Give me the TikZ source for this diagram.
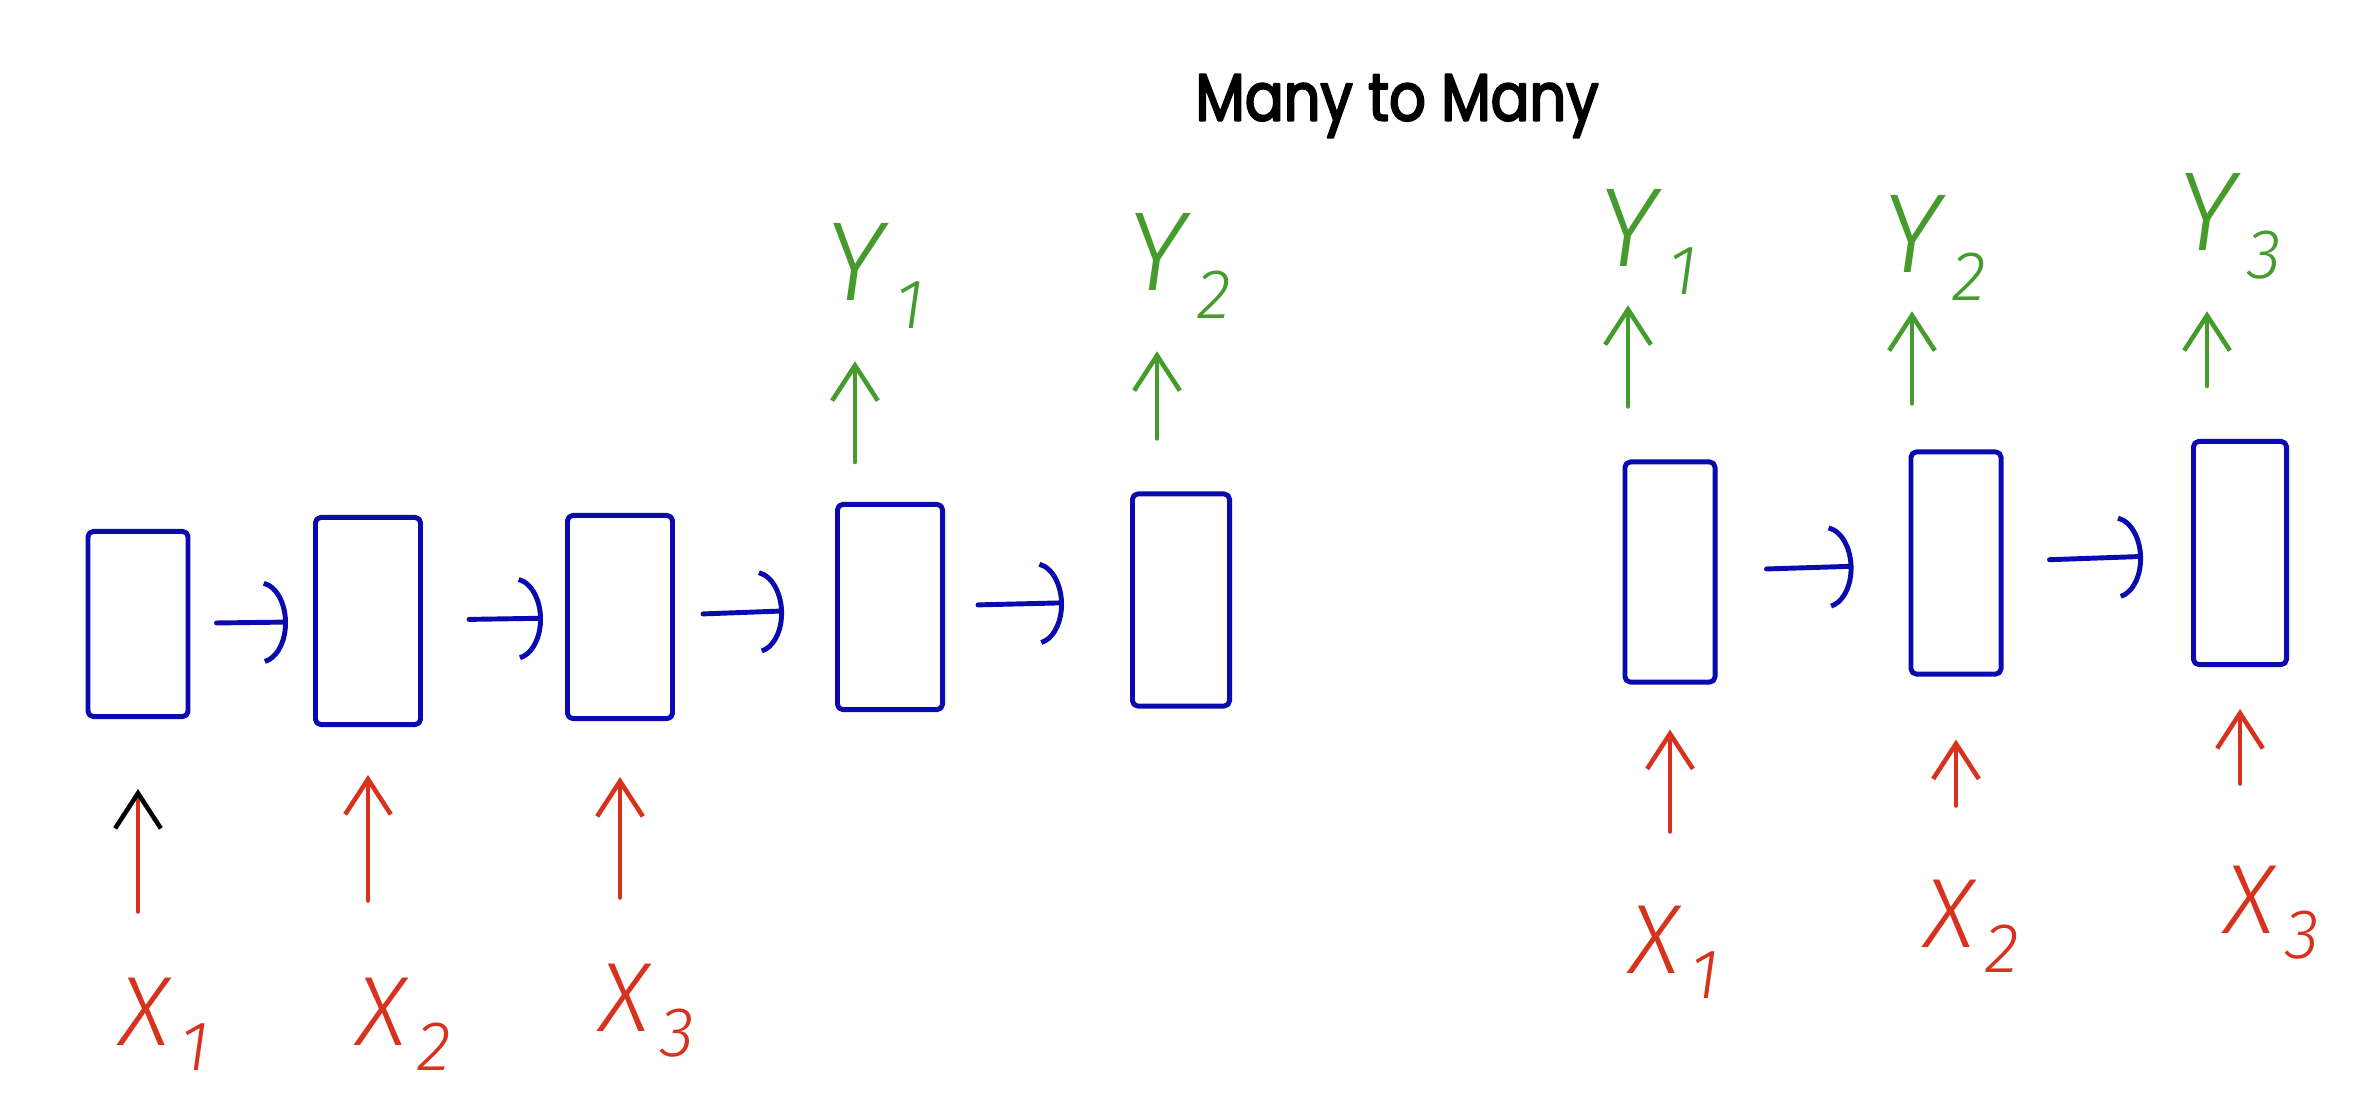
\documentclass[tikz,border=0pt]{standalone}
\usepackage{fontspec}
\setmainfont{Fira Sans Light}
\newfontfamily\titlefont{Poppins}[FakeStretch=0.86, FakeBold=3]
\usetikzlibrary{arrows.meta}
\definecolor{rnnblue}{RGB}{10,10,175}
\definecolor{rnnred}{RGB}{215,50,30}
\definecolor{rnngreen}{RGB}{70,155,45}
\newcommand\subtxt[2]{#1\rlap{\hspace{0.1em}\raisebox{-0.25em}{\fontsize{20}{20}\selectfont #2}}}
\begin{document}
\begin{tikzpicture}[x=0.01cm,y=-0.01cm,
  line cap=round, line join=round,
  cell/.style={draw=rnnblue, line width=1.4pt, rounded corners=1.5pt, inner sep=0pt},
  harrow/.style={draw=rnnblue, line width=1.4pt, -{Arc Barb[length=8pt,width=24pt,arc=160]}},
  inarrow/.style={draw=rnnred, line width=1.3pt, -{Straight Barb[length=10pt,width=13pt]}},
  inarrowblack/.style={draw=rnnred, line width=1.3pt, -{Straight Barb[length=10pt,width=13pt,color=black]}},
  outarrow/.style={draw=rnngreen, line width=1.3pt, -{Straight Barb[length=10pt,width=13pt]}},
  xlab/.style={text=rnnred, inner sep=0pt, text depth=0pt, font=\fontsize{28}{28}\selectfont\itshape},
  ylab/.style={text=rnngreen, inner sep=0pt, text depth=0pt, font=\fontsize{32}{32}\selectfont\itshape},
  titlestyle/.style={font=\titlefont\fontsize{19}{19}\selectfont, inner sep=0pt}
]
\fill[white] (0,0) rectangle (2360,1112);
\useasboundingbox (0,0) rectangle (2360,1112);

\node[titlestyle] (title) at (1397,106) {Many to Many};

% left group: boxes
\node[cell, minimum width=1.00cm, minimum height=1.85cm] (b1) at (138,624) {};
\node[cell, minimum width=1.05cm, minimum height=2.07cm] (b2) at (368,621) {};
\node[cell, minimum width=1.05cm, minimum height=2.03cm] (b3) at (620,617) {};
\node[cell, minimum width=1.05cm, minimum height=2.05cm] (b4) at (890,607) {};
\node[cell, minimum width=0.97cm, minimum height=2.12cm] (b5) at (1181,600) {};

\draw[harrow, shorten <=0.26cm, shorten >=0.25cm] (b1) -- (b2);
\draw[harrow, shorten <=0.46cm, shorten >=0.22cm] (b2) -- (b3);
\draw[harrow, shorten <=0.28cm, shorten >=0.51cm] (b3) -- (b4);
\draw[harrow, shorten <=0.33cm, shorten >=0.66cm] (b4) -- (b5);

% left inputs
\node[xlab] (x1) at (145,1012) {\subtxt{X}{1}};
\node[xlab] (x2) at (382,1012) {\subtxt{X}{2}};
\node[xlab] (x3) at (625,998) {\subtxt{X}{3}};
\draw[inarrowblack, shorten <=0.66cm, shorten >=0.70cm] (x1.north -| b1) -- (b1.south);
\draw[inarrow, shorten <=0.77cm, shorten >=0.48cm] (x2.north -| b2) -- (b2.south);
\draw[inarrow, shorten <=0.66cm, shorten >=0.56cm] (x3.north -| b3) -- (b3.south);

% left outputs
\node[ylab] (y1) at (855,262) {\subtxt{Y}{1}};
\node[ylab] (y2) at (1157,252) {\subtxt{Y}{2}};
\draw[outarrow, shorten <=0.40cm, shorten >=0.60cm] (b4.north -| y1) -- (y1.south);
\draw[outarrow, shorten <=0.53cm, shorten >=0.60cm] (b5.north -| y2) -- (y2.south);

% right group: boxes
\node[cell, minimum width=0.90cm, minimum height=2.20cm] (rb1) at (1670,572) {};
\node[cell, minimum width=0.90cm, minimum height=2.22cm] (rb2) at (1956,563) {};
\node[cell, minimum width=0.93cm, minimum height=2.23cm] (rb3) at (2240,553) {};

\draw[harrow, shorten <=0.49cm, shorten >=0.55cm] (rb1) -- (rb2);
\draw[harrow, shorten <=0.46cm, shorten >=0.48cm] (rb2) -- (rb3);

% right inputs
\node[xlab] (rx1) at (1655,940) {\subtxt{X}{1}};
\node[xlab] (rx2) at (1950,914) {\subtxt{X}{2}};
\node[xlab] (rx3) at (2250,900) {\subtxt{X}{3}};
\draw[inarrow, shorten <=0.74cm, shorten >=0.45cm] (rx1.north -| rb1) -- (rb1.south);
\draw[inarrow, shorten <=0.74cm, shorten >=0.63cm] (rx2.north -| rb2) -- (rb2.south);
\draw[inarrow, shorten <=0.82cm, shorten >=0.42cm] (rx3.north -| rb3) -- (rb3.south);

% right outputs
\node[ylab] (ry1) at (1628,228) {\subtxt{Y}{1}};
\node[ylab] (ry2) at (1912,234) {\subtxt{Y}{2}};
\node[ylab] (ry3) at (2207,212) {\subtxt{Y}{3}};
\draw[outarrow, shorten <=0.53cm, shorten >=0.38cm] (rb1.north -| ry1) -- (ry1.south);
\draw[outarrow, shorten <=0.46cm, shorten >=0.38cm] (rb2.north -| ry2) -- (ry2.south);
\draw[outarrow, shorten <=0.53cm, shorten >=0.60cm] (rb3.north -| ry3) -- (ry3.south);
\end{tikzpicture}
\end{document}
